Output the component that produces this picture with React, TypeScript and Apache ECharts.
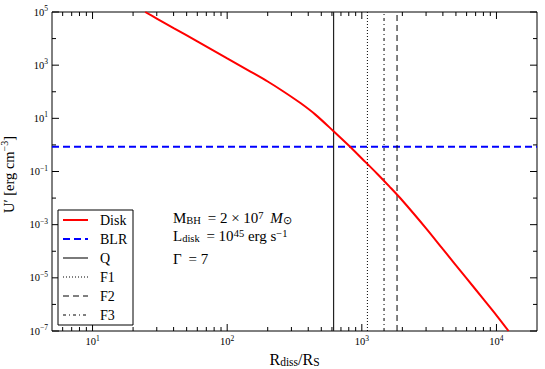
import React, { useEffect, useRef } from "react";
import * as echarts from "echarts";

// ---------- data ----------
const diskR = [24.6, 30, 40, 60, 100, 150, 200, 260, 350, 450, 617, 800, 1000, 1300, 1600, 2000, 3000, 4000, 6000, 8000, 10000, 12300];
const diskU = [1e5, 5.69e4, 2.49e4, 7834, 1799, 562, 243, 104.7, 37.6, 14.1, 3.27, 0.944, 0.309, 0.0826, 0.0275, 0.00811, 7.28e-4, 1.2e-4, 9.55e-6, 1.58e-6, 3.89e-7, 1e-7];
const blrU = 0.85;
const qR = 617;
const f1R = 1100;
const f2R = 1826;
const f3R = 1462;
const xRange = [5, 20000];
const yRange = [1e-7, 1e5];
const xMajorTicks = [10, 100, 1000, 10000];
const xMinorTicks = [6, 7, 8, 9, 20, 30, 40, 50, 60, 70, 80, 90, 200, 300, 400, 500, 600, 700, 800, 900, 2000, 3000, 4000, 5000, 6000, 7000, 8000, 9000];
const yMajorTicks = [1e5, 1e3, 1e1, 1e-1, 1e-3, 1e-5, 1e-7];
const yMinorTicks = [1e4, 1e2, 1, 1e-2, 1e-4, 1e-6];
const legendNames = ["Disk", "BLR", "Q", "F1", "F2", "F3"];

const FONT = "Liberation Serif";

const seriesStyle: Record<string, any> = {
  Disk: { color: "#ff0000", width: 2, type: "solid" },
  BLR: { color: "#0000ff", width: 2, type: [7, 4] },
  Q: { color: "#222222", width: 1.2, type: "solid" },
  F1: { color: "#000000", width: 1, type: [1, 2] },
  F2: { color: "#000000", width: 1, type: [6, 4] },
  F3: { color: "#000000", width: 1, type: [3, 3, 1, 3] },
};

const expText = (v: number) => {
  const e = Math.round(Math.log10(v));
  return `{b|10}{s|${e < 0 ? "\u2212" + -e : e}}`;
};

const labelRich = {
  b: { fontFamily: FONT, fontSize: 10.5, fill: "#000", color: "#000", lineHeight: 13, verticalAlign: "bottom" },
  s: { fontFamily: FONT, fontSize: 7.5, fill: "#000", color: "#000", lineHeight: 8, verticalAlign: "top" },
};

function tickSeries(values: number[], axis: "x" | "y", len: number) {
  return {
    type: "custom",
    silent: true,
    clip: false,
    z: 10,
    data: values.map((v) => (axis === "x" ? [v, yRange[0]] : [xRange[0], v])),
    renderItem: (_p: any, api: any) => {
      if (axis === "x") {
        const v = api.value(0);
        const b = api.coord([v, yRange[0]]);
        const t = api.coord([v, yRange[1]]);
        return {
          type: "group",
          children: [
            { type: "line", shape: { x1: b[0], y1: b[1], x2: b[0], y2: b[1] - len }, style: { stroke: "#000", lineWidth: 1 } },
            { type: "line", shape: { x1: t[0], y1: t[1], x2: t[0], y2: t[1] + len }, style: { stroke: "#000", lineWidth: 1 } },
          ],
        };
      }
      const v = api.value(1);
      const l = api.coord([xRange[0], v]);
      const r = api.coord([xRange[1], v]);
      return {
        type: "group",
        children: [
          { type: "line", shape: { x1: l[0], y1: l[1], x2: l[0] + len, y2: l[1] }, style: { stroke: "#000", lineWidth: 1 } },
          { type: "line", shape: { x1: r[0], y1: r[1], x2: r[0] - len, y2: r[1] }, style: { stroke: "#000", lineWidth: 1 } },
        ],
      };
    },
  };
}

function yLabelSeries(values: number[]) {
  return {
    type: "custom",
    silent: true,
    clip: false,
    z: 10,
    data: values.map((v) => [xRange[0], v]),
    renderItem: (_p: any, api: any) => {
      const v = api.value(1);
      const p = api.coord([xRange[0], v]);
      return {
        type: "text",
        x: p[0] - 4,
        y: p[1] - 1,
        style: { text: expText(v), rich: labelRich, align: "right", verticalAlign: "middle", fill: "#000" },
      };
    },
  };
}

function vline(name: string, r: number) {
  const s = seriesStyle[name];
  return {
    name,
    type: "line",
    symbol: "none",
    silent: true,
    data: [[r, yRange[0]], [r, yRange[1]]],
    lineStyle: { color: s.color, width: s.width, type: s.type },
  };
}

const annRich = {
  n: { fontFamily: FONT, fontSize: 15, fill: "#000", lineHeight: 16, verticalAlign: "middle" },
  i: { fontFamily: FONT, fontSize: 15, fill: "#000", fontStyle: "italic", lineHeight: 16, verticalAlign: "middle" },
  sub: { fontFamily: FONT, fontSize: 10.5, fill: "#000", lineHeight: 9, verticalAlign: "bottom" },
  sup: { fontFamily: FONT, fontSize: 10.5, fill: "#000", lineHeight: 9, verticalAlign: "top" },
};

export default function App() {
  const ref = useRef<HTMLDivElement>(null);
  useEffect(() => {
    if (!ref.current) return;
    const chart = echarts.init(ref.current, null, { renderer: "svg" });

    const legendGraphics: any[] = [
      { type: "rect", shape: { x: 58, y: 210, width: 75, height: 115 }, style: { fill: "#fff", stroke: "#000", lineWidth: 1 }, z: 100 },
    ];
    legendNames.forEach((n, i) => {
      const s = seriesStyle[n];
      const y = 220 + i * 19;
      legendGraphics.push({
        type: "line",
        z: 101,
        shape: { x1: 63, y1: y, x2: 88, y2: y },
        style: { stroke: s.color, lineWidth: s.width, lineDash: Array.isArray(s.type) ? s.type : null },
      });
      legendGraphics.push({
        type: "text",
        z: 101,
        x: 100,
        y: y + 0.5,
        style: { text: n, fontFamily: FONT, fontSize: 14, fill: "#000", verticalAlign: "middle" },
      });
    });

    const annGraphics: any[] = [
      {
        type: "text",
        x: 173,
        y: 218,
        style: { text: "{n|M}{sub|BH}{n|\u2009 = 2 \u00d7 10}{sup|7}{n|\u2009 }{i|M}{sub|\u2299}", rich: annRich, verticalAlign: "middle" },
      },
      {
        type: "text",
        x: 173,
        y: 236,
        style: { text: "{n|L}{sub|disk}{n|\u2009 = 10}{sup|45}{n| erg s}{sup|\u22121}", rich: annRich, verticalAlign: "middle" },
      },
      {
        type: "text",
        x: 173,
        y: 259,
        style: { text: "{n|\u0393\u2009 = 7}", rich: annRich, verticalAlign: "middle" },
      },
    ];

    chart.setOption({
      animation: false,
      backgroundColor: "#fff",
      grid: {
        left: 52,
        top: 12,
        width: 485,
        height: 319,
        show: true,
        borderColor: "#000",
        borderWidth: 1,
        backgroundColor: "transparent",
        containLabel: false,
        outerBoundsMode: "none",
      },
      xAxis: {
        type: "log",
        logBase: 10,
        min: xRange[0],
        max: xRange[1],
        axisLine: { show: false },
        axisTick: { show: false },
        splitLine: { show: false },
        axisLabel: {
          show: true,
          interval: 0,
          margin: 3,
          formatter: (v: number) => {
            const l = Math.log10(v);
            return Math.abs(l - Math.round(l)) > 1e-6 ? "" : expText(v);
          },
          rich: labelRich,
        },
        name: "{b|R}{sub|diss}{b|/R}{sub|S}",
        nameLocation: "middle",
        nameGap: 17,
        nameTextStyle: {
          rich: {
            b: { fontFamily: FONT, fontSize: 16, color: "#000", lineHeight: 16, verticalAlign: "top" },
            sub: { fontFamily: FONT, fontSize: 11.5, color: "#000", lineHeight: 10, verticalAlign: "bottom" },
          },
        },
      },
      yAxis: {
        type: "log",
        logBase: 10,
        min: yRange[0],
        max: yRange[1],
        axisLine: { show: false },
        axisTick: { show: false },
        splitLine: { show: false },
        axisLabel: { show: false },
        name: "{b|U\u2032 [erg cm}{s|\u22123}{b|]}",
        nameLocation: "middle",
        nameGap: 36,
        nameRotate: 90,
        nameTextStyle: {
          padding: [0, 6, 0, 0],
          rich: {
            b: { fontFamily: FONT, fontSize: 14.5, color: "#000", lineHeight: 17, verticalAlign: "bottom" },
            s: { fontFamily: FONT, fontSize: 10, color: "#000", lineHeight: 9, verticalAlign: "top" },
          },
        },
      },
      series: [
        {
          name: "Disk",
          type: "line",
          symbol: "none",
          smooth: 0.3,
          silent: true,
          z: 4,
          data: diskR.map((r, i) => [r, diskU[i]]),
          lineStyle: { color: seriesStyle.Disk.color, width: seriesStyle.Disk.width },
        },
        {
          name: "BLR",
          type: "line",
          symbol: "none",
          silent: true,
          z: 3,
          data: [[xRange[0], blrU], [xRange[1], blrU]],
          lineStyle: { color: seriesStyle.BLR.color, width: seriesStyle.BLR.width, type: seriesStyle.BLR.type },
        },
        vline("Q", qR),
        vline("F1", f1R),
        vline("F2", f2R),
        vline("F3", f3R),
        tickSeries(xMajorTicks, "x", 7),
        tickSeries(xMinorTicks, "x", 4),
        tickSeries(yMajorTicks, "y", 7),
        tickSeries(yMinorTicks, "y", 4),
        yLabelSeries(yMajorTicks),
      ],
      graphic: [...legendGraphics, ...annGraphics],
    });
    return () => chart.dispose();
  }, []);
  return <div ref={ref} style={{ position: "fixed", left: 0, top: 0, width: 545, height: 369 }} />;
}
